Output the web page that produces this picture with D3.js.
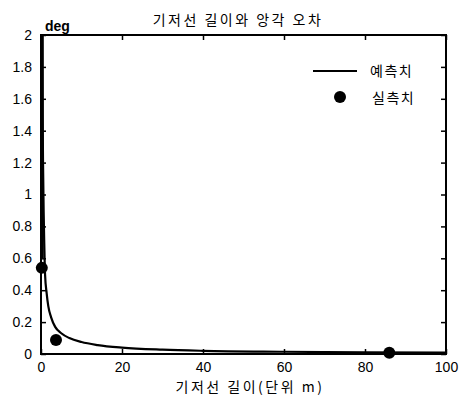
<!DOCTYPE html>
<html><head><meta charset="utf-8">
<script src="https://cdn.jsdelivr.net/npm/d3@7"></script>
<style>
body{margin:0;background:#fff;}
svg{display:block;font-family:"Liberation Sans",Arial,sans-serif;}
</style></head>
<body><svg id="c" width="462" height="398"></svg>
<script>
const title = "기저선 길이와 앙각 오차";
const xLabel = "기저선 길이(단위 m)";
const yUnit = "deg";
const legendNames = ["예측치", "실측치"];
const xTicks = [0, 20, 40, 60, 80, 100];
const yTicks = [0, 0.2, 0.4, 0.6, 0.8, 1, 1.2, 1.4, 1.6, 1.8, 2];
// predicted curve (baseline length m, error deg)
const predX = [0.3, 0.4, 0.5, 0.65, 0.8, 1.0, 1.4, 1.8, 2.5, 3.5, 5, 7, 10, 14, 20, 30, 40, 60, 80, 100];
const predY = [2.0, 1.5, 1.2, 0.9, 0.7, 0.5, 0.38, 0.3, 0.23, 0.17, 0.13, 0.1, 0.075, 0.056, 0.04, 0.027, 0.02, 0.014, 0.01, 0.008];
// measured
const measX = [0.2, 3.7, 86];
const measY = [0.54, 0.088, 0.008];

const svg = d3.select("#c");
const L = 41, R = 446, T = 35, B = 354;
const x = d3.scaleLinear().domain([0, 100]).range([L, R]);
const y = d3.scaleLinear().domain([0, 2]).range([B, T]);
const kfont = '"Noto Sans CJK KR","Noto Sans",sans-serif';

// frame
svg.append("rect").attr("x", L).attr("y", T).attr("width", R - L).attr("height", B - T)
  .attr("fill", "none").attr("stroke", "#000").attr("stroke-width", 2);

// axes with inward ticks
const fmt = d3.format("~g");
const ax = (g) => { g.select(".domain").remove(); g.selectAll("text").attr("fill", "#000").style("font-size", "14px"); g.selectAll("line").attr("stroke", "#000").attr("stroke-width", 1.5); };
svg.append("g").attr("transform", `translate(0,${B})`)
  .call(d3.axisBottom(x).tickValues(xTicks).tickFormat(fmt).tickSize(-5).tickPadding(8)).call(ax);
svg.append("g").attr("transform", `translate(0,${T})`)
  .call(d3.axisTop(x).tickValues(xTicks).tickFormat("").tickSize(-5)).call(ax);
svg.append("g").attr("transform", `translate(${L},0)`)
  .call(d3.axisLeft(y).tickValues(yTicks).tickFormat(fmt).tickSize(-5).tickPadding(9)).call(ax);
svg.append("g").attr("transform", `translate(${R},0)`)
  .call(d3.axisRight(y).tickValues(yTicks).tickFormat("").tickSize(-5)).call(ax);

// predicted curve
const pts = predX.map((v, i) => [v, predY[i]]);
svg.append("path").datum(pts)
  .attr("d", d3.line().x(d => x(d[0])).y(d => y(d[1])).curve(d3.curveMonotoneX))
  .attr("fill", "none").attr("stroke", "#000").attr("stroke-width", 2.2);
// steep left part
svg.append("line").attr("x1", x(0.3)).attr("x2", x(0.3)).attr("y1", y(2)).attr("y2", y(0.6))
  .attr("stroke", "#000").attr("stroke-width", 3);

// measured points
svg.selectAll("circle.m").data(measX).enter().append("circle")
  .attr("cx", d => x(d)).attr("cy", (d, i) => y(measY[i])).attr("r", 6).attr("fill", "#000");

// titles
svg.append("text").attr("x", 238).attr("y", 25).attr("text-anchor", "middle")
  .style("font-family", kfont).style("font-size", "14px").style("letter-spacing", "2.5px").text(title);
svg.append("text").attr("x", 45).attr("y", 31).style("font-size", "14px").style("font-weight", "bold").text(yUnit);
svg.append("text").attr("x", 250).attr("y", 392).attr("text-anchor", "middle")
  .style("font-family", kfont).style("font-size", "14px").style("letter-spacing", "2.5px").text(xLabel);

// legend
svg.append("line").attr("x1", 313).attr("x2", 357).attr("y1", 71).attr("y2", 71).attr("stroke", "#000").attr("stroke-width", 2.2);
svg.append("text").attr("x", 370).attr("y", 76).style("font-family", kfont).style("font-size", "14px").style("letter-spacing", "1.5px").text(legendNames[0]);
svg.append("circle").attr("cx", 340).attr("cy", 97).attr("r", 6).attr("fill", "#000");
svg.append("text").attr("x", 372).attr("y", 103).style("font-family", kfont).style("font-size", "14px").style("letter-spacing", "1.5px").text(legendNames[1]);
</script></body></html>
